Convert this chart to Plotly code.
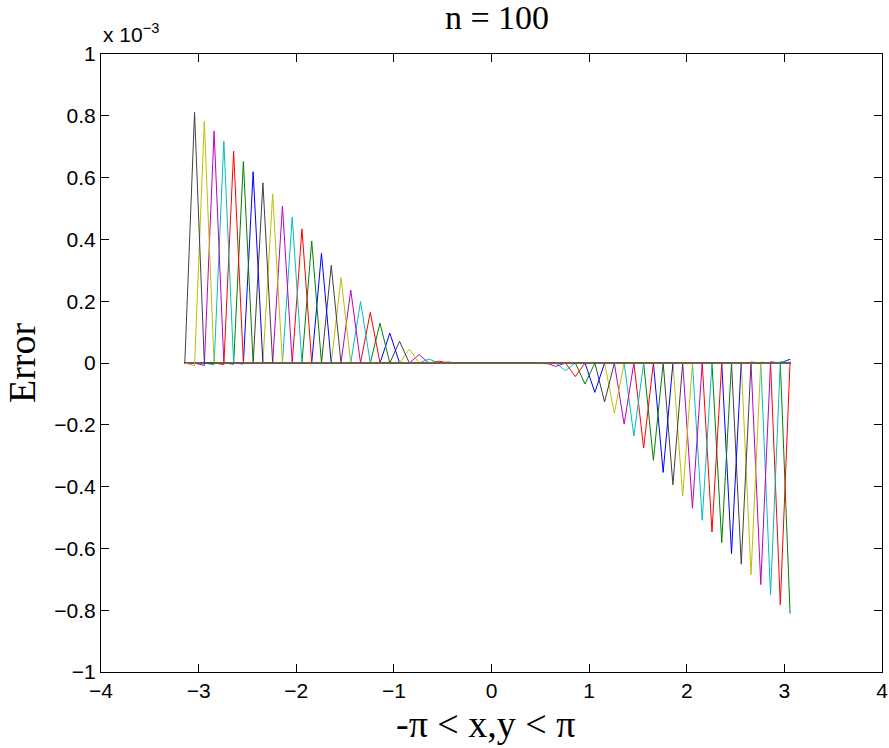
import plotly.graph_objects as go

# Grid (x = -pi : 0.1 : pi)
x_grid = [-3.1416, -3.0416, -2.9416, -2.8416, -2.7416, -2.6416, -2.5416, -2.4416, -2.3416, -2.2416,
          -2.1416, -2.0416, -1.9416, -1.8416, -1.7416, -1.6416, -1.5416, -1.4416, -1.3416, -1.2416,
          -1.1416, -1.0416, -0.9416, -0.8416, -0.7416, -0.6416, -0.5416, -0.4416, -0.3416, -0.2416,
          -0.1416, -0.0416, 0.0584, 0.1584, 0.2584, 0.3584, 0.4584, 0.5584, 0.6584, 0.7584,
          0.8584, 0.9584, 1.0584, 1.1584, 1.2584, 1.3584, 1.4584, 1.5584, 1.6584, 1.7584,
          1.8584, 1.9584, 2.0584, 2.1584, 2.2584, 2.3584, 2.4584, 2.5584, 2.6584, 2.7584,
          2.8584, 2.9584, 3.0584]

# Spike value (x 1e-3) of the curve whose spike sits at grid point j = 1..62
spike_values = [0.811, 0.782, 0.751, 0.718, 0.685, 0.652, 0.619, 0.583, 0.547, 0.508,
                0.472, 0.434, 0.395, 0.355, 0.316, 0.276, 0.236, 0.199, 0.164, 0.129,
                0.097, 0.070, 0.045, 0.027, 0.013, 0.006, 0.003, 0.001, 0.0005, 0.0,
                0.0, 0.0, 0.0, 0.0, -0.0005, -0.001, -0.003, -0.011, -0.025, -0.044,
                -0.068, -0.095, -0.126, -0.162, -0.198, -0.236, -0.275, -0.315, -0.354, -0.394,
                -0.431, -0.470, -0.509, -0.547, -0.581, -0.617, -0.651, -0.685, -0.717, -0.750,
                -0.782, -0.811]

# small side values: spike index -> value at the neighbouring point
left_dips = {2: -0.009, 3: -0.008, 4: -0.006, 5: -0.005, 6: -0.004, 7: -0.003, 8: -0.002}
right_bumps = {56: 0.002, 57: 0.003, 58: 0.003, 59: 0.004, 60: 0.005, 61: 0.005}
extra_curve_end = 0.012   # first (blue) curve, value at last grid point

matlab_colors = ["#0000FF", "#008000", "#FF0000", "#00BFBF", "#BF00BF", "#BFBF00", "#404040"]

n_pts = len(x_grid)
fig = go.Figure()

# first curve (spike beyond the grid)
y0 = [0.0] * n_pts
y0[-1] = extra_curve_end
fig.add_trace(go.Scatter(x=x_grid, y=y0, mode="lines",
                         line=dict(color=matlab_colors[0], width=1), showlegend=False))

for j in range(len(spike_values), 0, -1):
    i = n_pts + 1 - j  # plotting order index (1-based)
    y = [0.0] * n_pts
    y[j] = spike_values[j - 1]
    if j in left_dips:
        y[j - 1] = left_dips[j]
    if j in right_bumps and j + 1 < n_pts:
        y[j + 1] = right_bumps[j]
    fig.add_trace(go.Scatter(x=x_grid, y=y, mode="lines",
                             line=dict(color=matlab_colors[(i - 1) % 7], width=1),
                             showlegend=False))

x_ticks = [-4, -3, -2, -1, 0, 1, 2, 3, 4]
x_ticktext = ["\u22124", "\u22123", "\u22122", "\u22121", "0", "1", "2", "3", "4"]
y_ticks = [1, 0.8, 0.6, 0.4, 0.2, 0, -0.2, -0.4, -0.6, -0.8, -1]
y_ticktext = ["1", "0.8", "0.6", "0.4", "0.2", "0", "\u22120.2", "\u22120.4", "\u22120.6", "\u22120.8", "\u22121"]

sans = "Liberation Sans, Arial, sans-serif"
serif = "Liberation Serif, Times New Roman, serif"
tickfont = dict(family=sans, size=21, color="black")

axis_common = dict(showline=True, linecolor="black", linewidth=1, mirror="ticks",
                   ticks="inside", ticklen=8, tickcolor="black", tickwidth=1,
                   showgrid=False, zeroline=False, tickfont=tickfont, automargin=False)

fig.update_layout(
    width=889, height=748,
    margin=dict(l=101, r=7, t=54, b=76, autoexpand=False),
    paper_bgcolor="white", plot_bgcolor="white",
    xaxis=dict(range=[-4, 4], tickmode="array", tickvals=x_ticks, ticktext=x_ticktext, **axis_common),
    yaxis=dict(range=[-1, 1], tickmode="array", tickvals=y_ticks, ticktext=y_ticktext, **axis_common),
    title=dict(text="n = 100", font=dict(family=serif, size=34, color="black"),
               x=497 / 889, xref="container", xanchor="center",
               y=1 - 17 / 748, yref="container", yanchor="middle"),
)

fig.add_annotation(text="Error", xref="paper", yref="paper", x=(22 - 101) / 781, y=0.5,
                   xanchor="center", yanchor="middle", textangle=-90, showarrow=False,
                   font=dict(family=serif, size=38, color="black"))
fig.add_annotation(text="-π < x,y < π", xref="paper", yref="paper", x=(485 - 101) / 781,
                   y=-(724 - 672) / 618,
                   xanchor="center", yanchor="middle", showarrow=False,
                   font=dict(family=serif, size=38, color="black"))
fig.add_annotation(text="x 10<sup>\u22123</sup>", xref="paper", yref="paper", x=0, y=1 + 6 / 618,
                   xanchor="left", yanchor="bottom", showarrow=False,
                   font=dict(family=sans, size=21, color="black"))

fig.write_html("out.html", config={"displayModeBar": False},
               post_script="document.body.style.margin='0';document.body.style.padding='0';")
